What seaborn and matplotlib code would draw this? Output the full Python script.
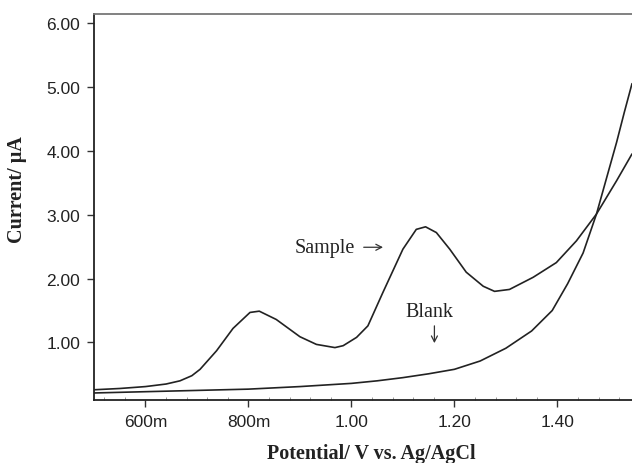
import numpy as np
import pandas as pd
import matplotlib
matplotlib.use("Agg")
import matplotlib.pyplot as plt
from matplotlib.ticker import AutoMinorLocator
import seaborn as sns

# values (V, uA)
sample_v = [0.50, 0.55, 0.60, 0.64, 0.667, 0.69, 0.706, 0.738, 0.770, 0.803, 0.821,
            0.854, 0.900, 0.932, 0.968, 0.984, 1.010, 1.032, 1.061, 1.100, 1.126,
            1.144, 1.165, 1.191, 1.223, 1.256, 1.278, 1.307, 1.353, 1.398, 1.437,
            1.476, 1.515, 1.545]
sample_i = [0.26, 0.28, 0.31, 0.35, 0.40, 0.48, 0.58, 0.87, 1.22, 1.47, 1.49,
            1.36, 1.09, 0.97, 0.92, 0.95, 1.08, 1.26, 1.78, 2.46, 2.77,
            2.81, 2.72, 2.46, 2.10, 1.88, 1.80, 1.83, 2.02, 2.25, 2.59,
            3.01, 3.53, 3.95]
blank_v = [0.50, 0.60, 0.70, 0.80, 0.90, 1.00, 1.05, 1.10, 1.15, 1.20, 1.25,
           1.30, 1.35, 1.39, 1.42, 1.45, 1.476, 1.50, 1.515, 1.53, 1.545]
blank_i = [0.21, 0.23, 0.25, 0.27, 0.31, 0.36, 0.40, 0.45, 0.51, 0.58, 0.71,
           0.91, 1.18, 1.50, 1.92, 2.40, 3.01, 3.70, 4.13, 4.60, 5.05]

xticks = [0.6, 0.8, 1.0, 1.2, 1.4]
xtick_labels = ["600m", "800m", "1.00", "1.20", "1.40"]
yticks = [1, 2, 3, 4, 5, 6]
ytick_labels = ["1.00", "2.00", "3.00", "4.00", "5.00", "6.00"]

sns.set_theme(style="white")
plt.rcParams["font.family"] = ["Liberation Sans", "DejaVu Sans"]

df = pd.concat([
    pd.DataFrame({"v": sample_v, "i": sample_i, "run": "Sample"}),
    pd.DataFrame({"v": blank_v, "i": blank_i, "run": "Blank"}),
])

fig = plt.figure(figsize=(6.32, 4.64), dpi=100)
ax = fig.add_axes([94 / 632, 63 / 464, 538 / 632, 386 / 464])
sns.lineplot(data=df, x="v", y="i", units="run", estimator=None,
             color="#222222", linewidth=1.2, legend=False, ax=ax)

ax.set_xlim(0.5, 1.545)
ax.set_ylim(0.10, 6.14)
ax.set_xticks(xticks)
ax.set_xticklabels(xtick_labels)
ax.set_yticks(yticks)
ax.set_yticklabels(ytick_labels)
ax.xaxis.set_minor_locator(AutoMinorLocator(5))
ax.tick_params(axis="both", which="major", direction="out", length=5, width=1,
               color="#333333", labelsize=12.5, labelcolor="#222222", pad=5,
               bottom=True, left=True)
ax.tick_params(axis="x", which="minor", direction="in", length=2, width=0.6,
               color="#888888", bottom=True)

for s in ["left", "bottom"]:
    ax.spines[s].set_color("#222222")
    ax.spines[s].set_linewidth(1.3)
ax.spines["top"].set_color("#777777")
ax.spines["top"].set_linewidth(1.3)
ax.spines["right"].set_visible(False)

serif = ["Liberation Serif", "DejaVu Serif"]
ax.set_xlabel("Potential/ V vs. Ag/AgCl", family=serif, fontsize=14.5,
              fontweight="bold", color="#222222")
ax.set_ylabel("Current/ μA", family=serif, fontsize=14.5,
              fontweight="bold", color="#222222")
ax.xaxis.set_label_coords(0.516, -0.112)
ax.yaxis.set_label_coords(-0.125, 0.547)

arrow = dict(arrowstyle="->,head_length=0.35,head_width=0.18", color="#333333",
             lw=0.9, shrinkA=0, shrinkB=0)
ax.text(0.890, 2.49, "Sample", family=serif, fontsize=14.5, color="#222222",
        ha="left", va="center")
ax.annotate("", xy=(1.0614, 2.49), xytext=(1.0239, 2.49), arrowprops=arrow)
ax.text(1.152, 1.48, "Blank", family=serif, fontsize=14.5, color="#222222",
        ha="center", va="center")
ax.annotate("", xy=(1.1612, 0.99), xytext=(1.1612, 1.26), arrowprops=arrow)

fig.savefig("out.png", dpi=100)
